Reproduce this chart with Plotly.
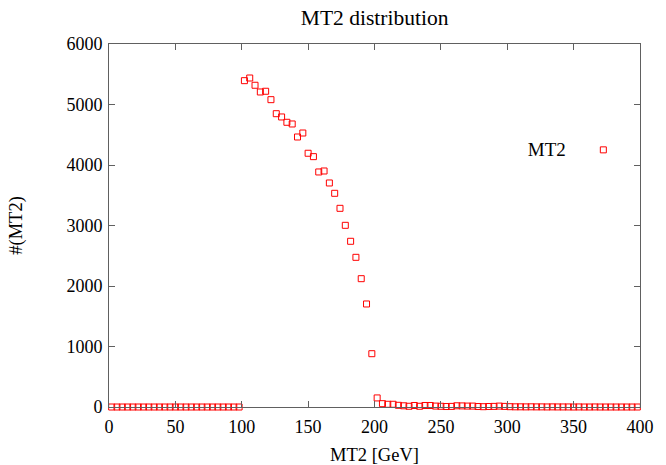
import plotly.graph_objects as go

# MT2 histogram: bin centres (GeV) and entries per 4 GeV bin
mt2_bins = [2 + 4 * i for i in range(100)]
counts = (
    [0] * 25
    + [5394, 5438, 5318, 5207, 5219, 5080, 4848, 4794, 4706, 4678,
       4463, 4529, 4194, 4138, 3885, 3901, 3703, 3532, 3284, 3003,
       2739, 2474, 2121, 1703, 881]
    + [150, 55, 45, 45, 28, 20, 12, 25, 12, 25,
       25, 15, 12, 8, 10, 20, 18, 15, 15, 8,
       5, 8, 10, 15, 10, 5, 3, 3, 2, 3,
       2, 2, 1, 2, 1, 1, 1, 0, 1, 0,
       0, 1, 0, 0, 0, 0, 0, 0, 0, 0]
)

x_ticks = [0, 50, 100, 150, 200, 250, 300, 350, 400]
y_ticks = [0, 1000, 2000, 3000, 4000, 5000, 6000]

FONT = "Liberation Serif, Times New Roman, serif"
AXIS_COL = "#606060"

fig = go.Figure()
fig.add_trace(go.Scatter(
    x=mt2_bins, y=counts, mode="markers", name=" ",
    marker=dict(symbol="square-open", size=6, color="#ff0000",
                line=dict(width=1, color="#ff0000")),
    cliponaxis=False, showlegend=True,
))

axis_common = dict(
    showgrid=False, zeroline=False, showline=True, linecolor=AXIS_COL,
    linewidth=1, mirror="ticks", ticks="inside", ticklen=6,
    tickcolor=AXIS_COL, automargin=False,
    tickfont=dict(family=FONT, size=18, color="#000"),
)

fig.update_layout(
    width=666, height=465,
    margin=dict(l=109, r=26, t=44, b=58),
    font=dict(family=FONT, color="#000"),
    paper_bgcolor="white", plot_bgcolor="white",
    title=dict(text="MT2 distribution", x=0.5625, xanchor="center",
               y=0.962, yanchor="middle", automargin=False,
               font=dict(family=FONT, size=21.5, color="#000")),
    xaxis=dict(range=[0, 400], tickvals=x_ticks, ticklabelstandoff=3,
               title=dict(text="MT2 [GeV]", standoff=17,
                          font=dict(family=FONT, size=18.5, color="#000")),
               **axis_common),
    yaxis=dict(range=[0, 6000], tickvals=y_ticks, ticklabelstandoff=2,
               title=dict(text="#(MT2)", standoff=38,
                          font=dict(family=FONT, size=18.5, color="#000")),
               **axis_common),
    legend=dict(x=0.785, y=0.708, xanchor="left", yanchor="middle",
                bgcolor="rgba(0,0,0,0)",
                title=dict(text="MT2&nbsp;&nbsp;", side="left",
                           font=dict(family=FONT, size=19, color="#000")),
                font=dict(family=FONT, size=19, color="#000")),
)

fig.write_html("out.html")
